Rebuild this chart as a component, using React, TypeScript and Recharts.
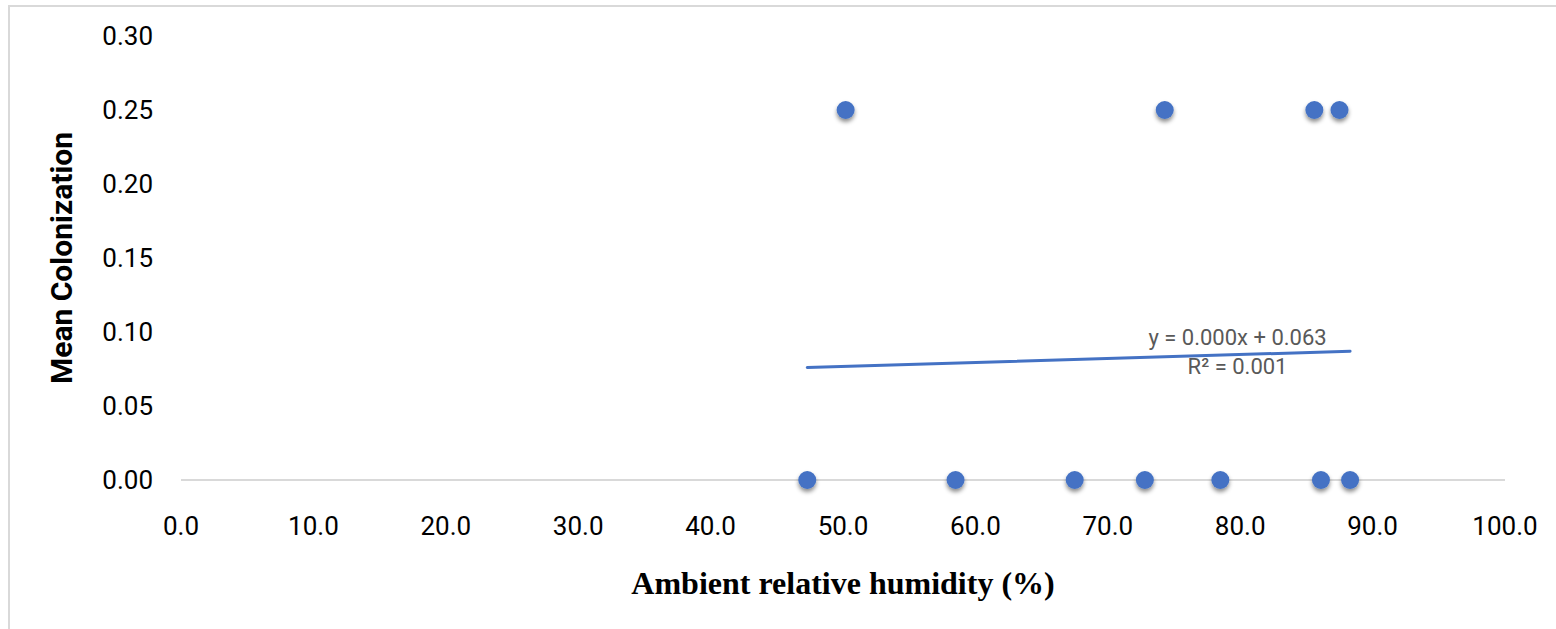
import React from "react";
import {
  ScatterChart,
  Scatter,
  XAxis,
  YAxis,
  ReferenceLine,
  ReferenceDot,
  Label,
} from "recharts";

// humidity (%) vs mean colonization
const humidityHigh = [50.2, 74.3, 85.6, 87.5];
const colonizationHigh = [0.25, 0.25, 0.25, 0.25];
const humidityZero = [47.3, 58.5, 67.5, 72.8, 78.5, 86.1, 88.3];
const colonizationZero = [0, 0, 0, 0, 0, 0, 0];

// linear trendline end points
const trendX = [47.3, 88.3];
const trendY = [0.076, 0.087];
const trendLabel = ["y = 0.000x + 0.063", "R² = 0.001"];
const trendLabelAt = { x: 79.8, y: 0.087 };

const xTicks = [0, 10, 20, 30, 40, 50, 60, 70, 80, 90, 100];
const yTicks = [0, 0.05, 0.1, 0.15, 0.2, 0.25, 0.3];

const points = [
  ...humidityHigh.map((x, i) => ({ x, y: colonizationHigh[i] })),
  ...humidityZero.map((x, i) => ({ x, y: colonizationZero[i] })),
];

const BLUE = "#4472c4";
const tickStyle = { fill: "#000", fontSize: 26, fontFamily: "Roboto, sans-serif" };

const Dot = (props: any) => {
  const { cx, cy } = props;
  if (cx == null || cy == null) return null;
  return <circle cx={cx} cy={cy} r={9} fill={BLUE} filter="url(#dotShadow)" />;
};

const TrendText = (props: any) => {
  const { viewBox } = props;
  const cx = viewBox.x + (viewBox.width || 0) / 2;
  const cy = viewBox.y + (viewBox.height || 0) / 2;
  return (
    <g fontFamily="Roboto, sans-serif" fontSize={22} fill="#595959" textAnchor="middle">
      <text x={cx} y={cy - 14} dominantBaseline="central">
        {trendLabel[0]}
      </text>
      <text x={cx} y={cy + 15} dominantBaseline="central">
        {trendLabel[1]}
      </text>
    </g>
  );
};

export default function App() {
  return (
    <div
      style={{
        position: "absolute",
        left: 0,
        top: 0,
        width: 1556,
        height: 629,
        background: "#fff",
        overflow: "hidden",
      }}
    >
      <div
        style={{
          position: "absolute",
          left: 8,
          top: 5,
          width: 1600,
          height: 700,
          borderTop: "2px solid #d9d9d9",
          borderLeft: "2px solid #d9d9d9",
        }}
      />
      <div style={{ position: "absolute", left: 0, top: 0 }}>
        <ScatterChart
          width={1556}
          height={629}
          margin={{ top: 36, right: 51, bottom: 0, left: 0 }}
        >
          <defs>
            <filter id="dotShadow" x="-50%" y="-50%" width="200%" height="220%">
              <feDropShadow dx="0" dy="3" stdDeviation="2" floodColor="#000" floodOpacity="0.45" />
            </filter>
          </defs>
          <XAxis
            type="number"
            dataKey="x"
            domain={[0, 100]}
            ticks={xTicks}
            tickFormatter={(v) => v.toFixed(1)}
            axisLine={{ stroke: "#d9d9d9", strokeWidth: 2 }}
            tickLine={false}
            tickSize={0}
            tickMargin={37}
            tick={tickStyle}
            height={149}
            interval={0}
          >
            <Label
              content={({ viewBox }: any) => (
                <text
                  x={viewBox.x + viewBox.width / 2}
                  y={583}
                  textAnchor="middle"
                  dominantBaseline="central"
                  fontFamily="'Liberation Serif', 'Times New Roman', serif"
                  fontWeight="bold"
                  fontSize={32}
                  fill="#000"
                >
                  Ambient relative humidity (%)
                </text>
              )}
            />
          </XAxis>
          <YAxis
            type="number"
            dataKey="y"
            domain={[0, 0.3]}
            ticks={yTicks}
            tickFormatter={(v) => v.toFixed(2)}
            axisLine={false}
            tickLine={false}
            tickSize={0}
            tickMargin={28}
            tick={tickStyle}
            width={181}
            interval={0}
          >
            <Label
              content={({ viewBox }: any) => {
                const cx = 61;
                const cy = viewBox.y + viewBox.height / 2;
                return (
                  <text
                    x={cx}
                    y={cy}
                    transform={`rotate(-90 ${cx} ${cy})`}
                    textAnchor="middle"
                    dominantBaseline="central"
                    fontFamily="'Liberation Sans Narrow', 'Roboto', sans-serif"
                    fontWeight="bold"
                    fontSize={30}
                    fill="#000"
                  >
                    Mean Colonization
                  </text>
                );
              }}
            />
          </YAxis>
          <ReferenceLine
            segment={[
              { x: trendX[0], y: trendY[0] },
              { x: trendX[1], y: trendY[1] },
            ]}
            stroke={BLUE}
            strokeWidth={3}
            strokeLinecap="round"
          />
          <ReferenceDot
            x={trendLabelAt.x}
            y={trendLabelAt.y}
            r={0}
            fill="none"
            stroke="none"
            label={<TrendText />}
          />
          <Scatter data={points} shape={<Dot />} isAnimationActive={false} />
        </ScatterChart>
      </div>
    </div>
  );
}
